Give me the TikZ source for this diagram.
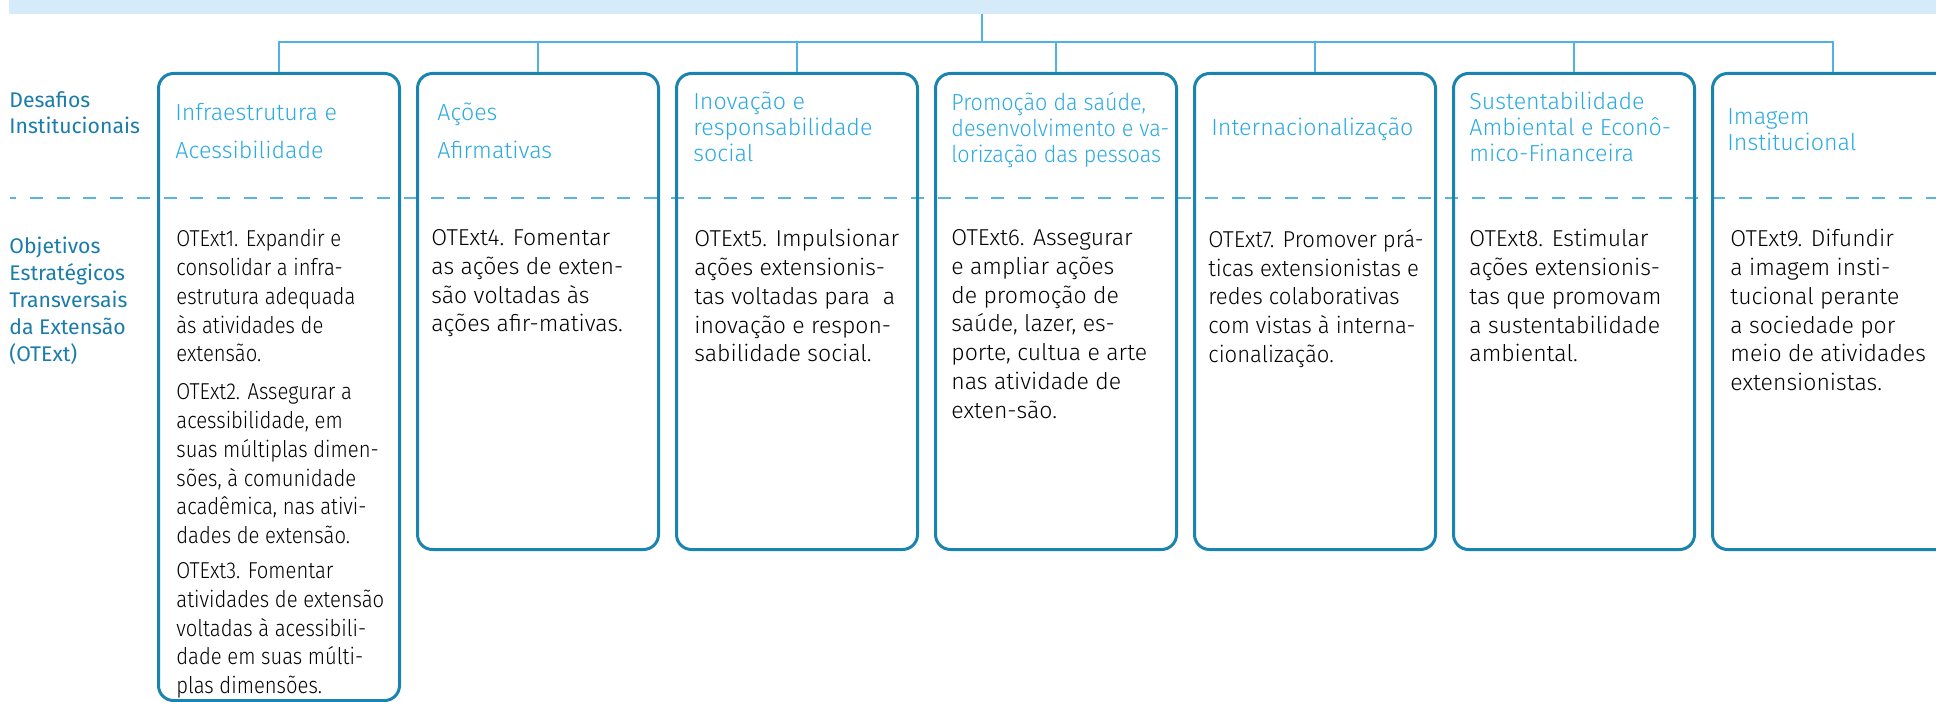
\documentclass[tikz,border=0pt]{standalone}
\usepackage{fontspec}
\setmainfont{Fira Sans Light}
\newfontfamily\labelfont{Fira Sans}
\newfontfamily\condfont[FakeStretch=0.88]{Fira Sans Light}
\newfontfamily\narrowfont[FakeStretch=0.96]{Fira Sans Light}
\newfontfamily\headnarrow[FakeStretch=0.93]{Fira Sans Light}
\usetikzlibrary{positioning}

\definecolor{bandblue}{HTML}{D5EBF9}
\definecolor{linkblue}{HTML}{4DB3E3}
\definecolor{boxblue}{HTML}{1A84B0}
\definecolor{headblue}{HTML}{2AAAE1}
\definecolor{labelblue}{HTML}{1A7CA8}
\definecolor{dashblue}{HTML}{5AB5DA}

\tikzset{
	box/.style={draw=boxblue,line width=1.5pt,rounded corners=7.5pt,minimum width=120.5pt,anchor=north west,inner sep=0pt},
	head/.style={headblue,anchor=north west,align=left,inner sep=0pt,font=\fontsize{11.6}{13}\selectfont},
	body/.style={anchor=north west,align=left,inner sep=0pt,font=\fontsize{11.5}{14.4}\selectfont},
	sidelabel/.style={labelblue,anchor=north west,align=left,inner sep=0pt},
	link/.style={linkblue,line width=1pt},
}

\begin{document}
\begin{tikzpicture}[x=0.5pt,y=-0.5pt]
%	\draw[help lines, color=black!30, step=100, ultra thin](0,0)grid(1936,701);
	\useasboundingbox (0,0) rectangle (1936,701);
	\clip (0,0) rectangle (1936,701);
	
	\node[fill=bandblue,inner sep=0pt,minimum width=971pt,minimum height=20pt,anchor=south west] (band) at (9,14) {};
	\draw [dashblue,line width=1pt,dash pattern=on 6.5pt off 6.85pt,dash phase=3.35pt](10,198)--(1936,198);
	
	\node[sidelabel,font=\labelfont\fontsize{10.6}{13}\selectfont] (desafios) at (9,91.5) {Desafios\\Institucionais};
	\node[sidelabel,font=\labelfont\fontsize{10.6}{13.5}\selectfont] (objetivos) at (9,236.5) {Objetivos\\Estratégicos\\Transversais\\da Extensão\\(OTExt)};
	
	\node[box,minimum height=313.5pt] (infra) at (157,72) {};
	\node[box,minimum height=238pt] (acoes) at (416,72) {};
	\node[box,minimum height=238pt] (inova) at (675,72) {};
	\node[box,minimum height=238pt] (saude) at (934,72) {};
	\node[box,minimum height=238pt] (inter) at (1193,72) {};
	\node[box,minimum height=238pt] (susten) at (1452,72) {};
	\node[box,minimum height=238pt] (imagem) at (1711,72) {};
	
	\node[head] (infrahead) at (175,103) {Infraestrutura e\\[6pt]Acessibilidade};
	\node[head] (acoeshead) at (437,103) {Ações\\[6pt]Afirmativas};
	\node[head] (inovahead) at (693,91.5) {Inovação e\\responsabilidade\\social};
	\node[head,font=\headnarrow\fontsize{11.6}{13}\selectfont] (saudehead) at (951,91.5) {Promoção da saúde,\\desenvolvimento e va-\\lorização das pessoas};
	\node[head] (interhead) at (1211,117.5) {Internacionalização};
	\node[head] (sustenhead) at (1469,91.5) {Sustentabilidade\\Ambiental e Econô-\\mico-Financeira};
	\node[head] (imagemhead) at (1727,108) {Imagem\\Institucional};
	
	\node[body,font=\condfont\fontsize{11.5}{14.4}\selectfont] (infratext) at (176,229) {OTExt1. Expandir e\\consolidar a infra-\\estrutura adequada\\às atividades de\\extensão.\\[4.5pt]OTExt2. Assegurar a\\acessibilidade, em\\suas múltiplas dimen-\\sões, à comunidade\\acadêmica, nas ativi-\\dades de extensão.\\[3pt]OTExt3. Fomentar\\atividades de extensão\\voltadas à acessibili-\\dade em suas múlti-\\plas dimensões.};
	\node[body] (acoestext) at (431,229) {OTExt4. Fomentar\\as ações de exten-\\são voltadas às\\ações afir-mativas.};
	\node[body] (inovatext) at (694,229) {OTExt5. Impulsionar\\ações extensionis-\\tas voltadas para\ \ a\\inovação e respon-\\sabilidade social.};
	\node[body] (saudetext) at (951,229) {OTExt6. Assegurar\\e ampliar ações\\de promoção de\\saúde, lazer, es-\\porte, cultua e arte\\nas atividade de\\exten-são.};
	\node[body,font=\narrowfont\fontsize{11.5}{14.4}\selectfont] (intertext) at (1208,229) {OTExt7. Promover prá-\\ticas extensionistas e\\redes colaborativas\\com vistas à interna-\\cionalização.};
	\node[body] (sustentext) at (1469,229) {OTExt8. Estimular\\ações extensionis-\\tas que promovam\\a sustentabilidade\\ambiental.};
	\node[body] (imagemtext) at (1730,229) {OTExt9. Difundir\\a imagem insti-\\tucional perante\\a sociedade por\\meio de atividades\\extensionistas.};
	
	\coordinate (bus) at (982,41.7);
	\draw [link](band.south -| bus)--(bus);
	\draw [link](bus)-|(infra.north);
	\draw [link](bus)-|(acoes.north);
	\draw [link](bus)-|(inova.north);
	\draw [link](bus)-|(saude.north);
	\draw [link](bus)-|(inter.north);
	\draw [link](bus)-|(susten.north);
	\draw [link](bus)-|(imagem.north);
	
\end{tikzpicture}
\end{document}
